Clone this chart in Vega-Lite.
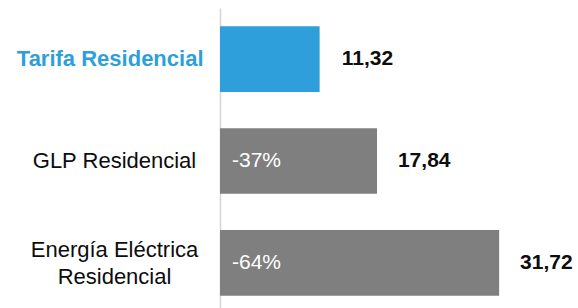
{
  "$schema": "https://vega.github.io/schema/vega-lite/v6.json",
  "width": 358,
  "height": 306,
  "autosize": {"type": "none"},
  "padding": {"left": 220, "top": 8, "right": 0, "bottom": 0},
  "background": "white",
  "config": {
    "view": {"stroke": null},
    "font": "Liberation Sans",
    "locale": {"number": {"decimal": ",", "thousands": ".", "grouping": [3], "currency": ["", ""]}}
  },
  "data": {
    "values": [
      {"categoria": "Tarifa Residencial", "valor": 11.32, "variacion": "", "tipo": "tarifa"},
      {"categoria": "GLP Residencial", "valor": 17.84, "variacion": "-37%", "tipo": "otro"},
      {"categoria": "Energía Eléctrica Residencial", "valor": 31.72, "variacion": "-64%", "tipo": "otro"}
    ]
  },
  "encoding": {
    "y": {
      "field": "categoria",
      "type": "nominal",
      "sort": null,
      "scale": {"paddingInner": 0.355, "paddingOuter": 0.18},
      "axis": {
        "title": null,
        "ticks": false,
        "grid": false,
        "domainColor": "#D4D4D4",
        "domainWidth": 1.5,
        "labelAlign": {"condition": {"test": "datum.value === 'Tarifa Residencial'", "value": "right"}, "value": "center"},
        "labelBaseline": "middle",
        "labelPadding": {"condition": {"test": "datum.value === 'Tarifa Residencial'", "value": 17}, "value": 106},
        "labelOffset": {"condition": {"test": "datum.value === 'Energía Eléctrica Residencial'", "value": -12.5}, "value": 0},
        "labelFontSize": 22,
        "labelLineHeight": 26.5,
        "labelLimit": 300,
        "labelColor": {"condition": {"test": "datum.value === 'Tarifa Residencial'", "value": "#2E9FDB"}, "value": "#0D0D0D"},
        "labelFontWeight": {"condition": {"test": "datum.value === 'Tarifa Residencial'", "value": "bold"}, "value": "normal"},
        "labelExpr": "datum.label === 'Energía Eléctrica Residencial' ? ['Energía Eléctrica', 'Residencial'] : datum.label"
      }
    }
  },
  "layer": [
    {
      "mark": {"type": "bar"},
      "encoding": {
        "x": {"field": "valor", "type": "quantitative", "scale": {"domain": [0, 40.68], "nice": false}, "axis": null},
        "color": {"field": "tipo", "type": "nominal", "scale": {"domain": ["tarifa", "otro"], "range": ["#2E9FDB", "#7F7F7F"]}, "legend": null}
      }
    },
    {
      "mark": {"type": "text", "align": "right", "baseline": "middle", "dx": 73.5, "fontSize": 21, "fontWeight": "bold", "color": "#0D0D0D"},
      "encoding": {
        "x": {"field": "valor", "type": "quantitative"},
        "text": {"field": "valor", "type": "quantitative", "format": ".2f"}
      }
    },
    {
      "mark": {"type": "text", "align": "left", "baseline": "middle", "dx": 12, "fontSize": 21, "color": "white"},
      "encoding": {
        "x": {"datum": 0, "type": "quantitative"},
        "text": {"field": "variacion", "type": "nominal"}
      }
    }
  ]
}
